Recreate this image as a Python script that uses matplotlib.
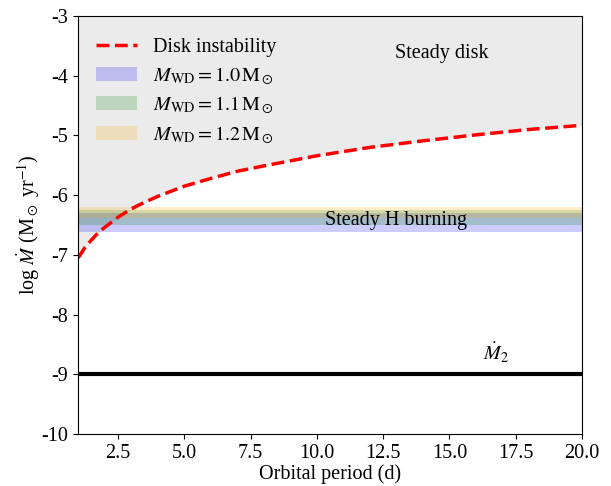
import numpy as np
import matplotlib
matplotlib.use("Agg")
import matplotlib.pyplot as plt

plt.rcParams['font.family'] = ['Liberation Serif', 'DejaVu Serif']
plt.rcParams['mathtext.fontset'] = 'stix'
plt.rcParams['axes.unicode_minus'] = False
plt.rcParams['font.size'] = 14.5

# critical accretion rate for disk instability vs orbital period
period = [1.0, 1.25, 1.5, 1.75, 2.0, 2.5, 3.0, 3.5, 4.0, 5.0, 6.0, 7.0, 8.0,
          10.0, 12.0, 14.0, 16.0, 18.0, 20.0]
log_mdot_crit = [-7.05, -6.88, -6.75, -6.63, -6.54, -6.37, -6.23, -6.12, -6.02,
                 -5.85, -5.72, -5.60, -5.51, -5.34, -5.20, -5.09, -4.99, -4.90, -4.83]

# steady hydrogen burning ranges (log Mdot) per WD mass
wd_masses = ['1.0', '1.1', '1.2']
steady_low = [-6.62, -6.50, -6.38]
steady_high = [-6.30, -6.25, -6.20]
band_colors = ['blue', 'green', 'orange']

log_mdot_donor = -9.0

fig = plt.figure(figsize=(6.11, 4.86), dpi=100)
ax = fig.add_axes([0.128, 0.107, 0.8245, 0.86])

ax.fill_between(period, log_mdot_crit, -3, color='#ebebeb', lw=0)
ax.plot(period, log_mdot_crit, 'r--', lw=2.5, label='Disk instability')

for m, lo, hi, c in zip(wd_masses, steady_low, steady_high, band_colors):
    ax.axhspan(lo, hi, color=c, alpha=0.2, lw=0,
               label=r'$M_{\rm WD} = %s\,{\rm M}_\odot$' % m)

ax.axhline(log_mdot_donor, color='black', lw=3)

ax.text(14.7, -3.63, 'Steady disk', ha='center', va='center')
ax.text(13.0, -6.43, 'Steady H burning', ha='center', va='center')
ax.text(16.75, -8.65, r'$\dot{M}_2$', ha='center', va='center')

ax.set_xlim(1, 20)
ax.set_ylim(-10, -3)
ax.set_xticks([2.5, 5.0, 7.5, 10.0, 12.5, 15.0, 17.5, 20.0])
ax.set_xlabel('Orbital period (d)', labelpad=1)
ax.set_ylabel(r'log $\dot{M}$ (M$_\odot$ yr$^{-1}$)', labelpad=0)
ax.legend(loc='upper left', frameon=False, labelspacing=0.4,
          bbox_to_anchor=(0, 0.99))

fig.savefig('out.png', dpi=100)
